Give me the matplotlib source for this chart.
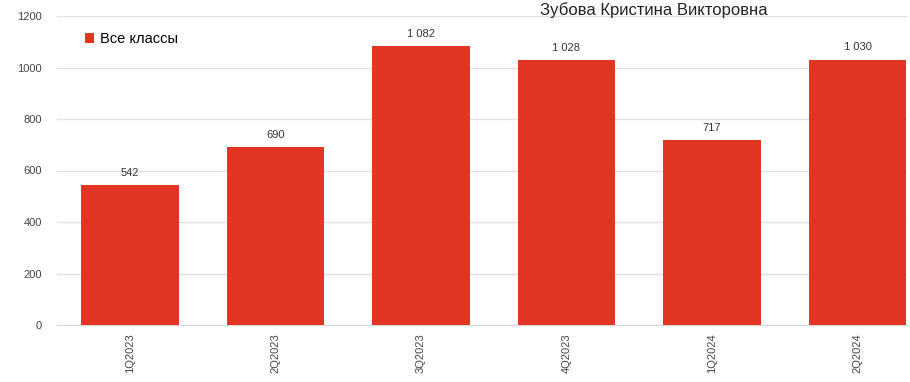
import matplotlib.pyplot as plt

plt.rcParams['font.family'] = ['Liberation Sans', 'DejaVu Sans']

quarters = ['1Q2023', '2Q2023', '3Q2023', '4Q2023', '1Q2024', '2Q2024']
totals = [542, 690, 1082, 1028, 717, 1030]

bar_color = '#e33524'

fig = plt.figure(figsize=(9.1, 3.82), dpi=100)
ax = fig.add_axes([57 / 910, 1 - 325 / 382, 850 / 910, 309 / 382])

x = list(range(len(quarters)))
bars = ax.bar(x, totals, width=0.67, color=bar_color, label='Все классы', zorder=3)

# value labels above bars, thousands split with a space
for xi, v in zip(x, totals):
    txt = f'{v:,}'.replace(',', ' ')
    ax.text(xi, v + 30, txt, ha='center', va='bottom', fontsize=8, color='#333333')

ax.set_xlim(-0.5, 5.34)
ax.set_ylim(0, 1200)
ax.set_yticks(range(0, 1201, 200))
ax.set_xticks(x)
ax.set_xticklabels(quarters, rotation=90, fontsize=8, color='#444444')
ax.tick_params(axis='y', labelsize=8, labelcolor='#444444', length=0, pad=11)
ax.tick_params(axis='x', length=0, pad=6)

ax.grid(axis='y', color='#e0e0e0', linewidth=1, zorder=0)
for s in ['top', 'right', 'left']:
    ax.spines[s].set_visible(False)
ax.spines['bottom'].set_color('#d8d8d8')

fig.text(654 / 910, 1 - 10 / 382, 'Зубова Кристина Викторовна', ha='center', va='center',
         fontsize=12, color='#222222')

ax.legend(loc='upper left', bbox_to_anchor=(0.018, 0.99), frameon=False, fontsize=10.5,
          handlelength=0.6, handleheight=0.6, handletextpad=0.4)

fig.savefig('out.png', dpi=100)
